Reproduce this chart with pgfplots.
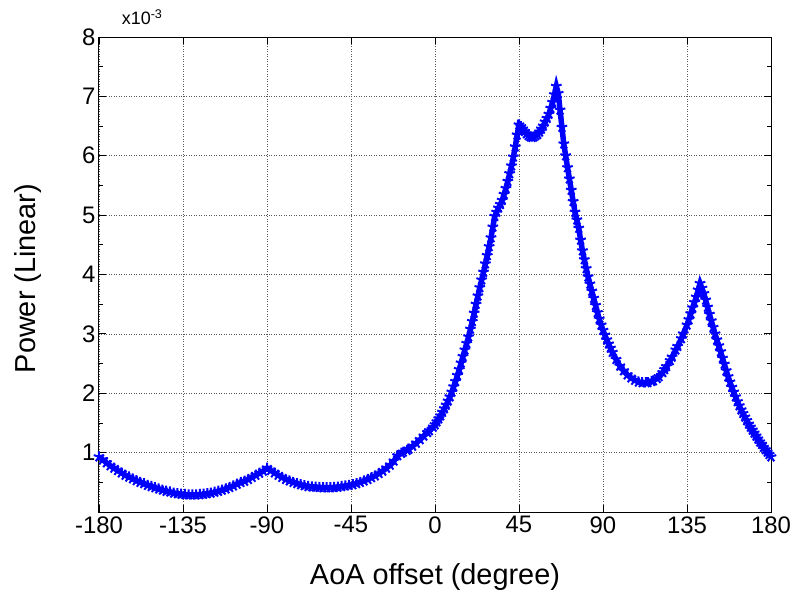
\documentclass[border=0pt]{standalone}
\usepackage{fontspec}
\setmainfont{Liberation Sans}
\usepackage{pgfplots}
\pgfplotsset{compat=1.18}
\begin{document}
\begin{tikzpicture}
\begin{axis}[
  scale only axis,
  width=672bp, height=475bp,
  xmin=-180, xmax=180, ymin=0, ymax=8,
  xtick={-180,-135,-90,-45,0,45,90,135,180},
  xticklabels={-180,-135,-90,-45,0,45,90,135,180},
  ytick={1,2,3,4,5,6,7,8},
  yticklabels={1,2,3,4,5,6,7,8},
  minor ytick={0.5,1.5,2.5,3.5,4.5,5.5,6.5,7.5},
  tick align=inside,
  major tick length=7bp, minor tick length=4bp,
  every tick/.style={black, line width=0.8bp},
  axis line style={black, line width=1bp},
  grid=major,
  major grid style={black!65, line width=0.7bp, dash pattern=on 1bp off 1.5bp},
  tick label style={font=\fontsize{24}{28}\selectfont},
  xticklabel style={yshift=-1bp},
  xlabel={AoA offset (degree)},
  ylabel={Power (Linear)},
  label style={font=\fontsize{29}{33}\selectfont},
  xlabel style={at={([yshift=-72bp]axis description cs:0.5,0)}, anchor=base},
  ylabel style={at={([xshift=-63bp,yshift=-4bp]axis description cs:0,0.5)}, anchor=base},
  clip=false,
]
\addplot[blue, line width=5.5bp, mark=star, mark size=5.5bp, mark options={line width=2bp}] coordinates {
(-180,0.93) (-178,0.88) (-176,0.83) (-174,0.78) (-172,0.74) (-170,0.70) (-168,0.66) (-166,0.62) (-164,0.59) (-162,0.56) (-160,0.53)
(-158,0.50) (-156,0.48) (-154,0.45) (-152,0.43) (-150,0.41) (-148,0.39) (-146,0.37) (-144,0.35) (-142,0.34) (-140,0.32) (-138,0.31) (-136,0.30)
(-134,0.295) (-132,0.29) (-130,0.29) (-128,0.29) (-126,0.295) (-124,0.30) (-122,0.31) (-120,0.32) (-118,0.335) (-116,0.35) (-114,0.37) (-112,0.39)
(-110,0.415) (-108,0.44) (-106,0.47) (-104,0.50) (-102,0.52) (-100,0.55) (-98,0.585) (-96,0.62) (-94,0.655) (-92,0.69) (-90,0.74)
(-88,0.70) (-86,0.66) (-84,0.62) (-82,0.585) (-80,0.55) (-78,0.525) (-76,0.50) (-74,0.48) (-72,0.46) (-70,0.445) (-68,0.43)
(-66,0.425) (-64,0.42) (-62,0.415) (-60,0.41) (-58,0.41) (-56,0.41) (-54,0.415) (-52,0.42) (-50,0.43) (-48,0.44) (-46,0.45) (-44,0.46)
(-42,0.48) (-40,0.50) (-38,0.525) (-36,0.55) (-34,0.58) (-32,0.61) (-30,0.65) (-28,0.69) (-26,0.74) (-24,0.79) (-22,0.86) (-20,0.95)
(-18,0.99) (-17,1.01) (-15,1.04) (-14,1.06) (-12,1.11) (-10,1.16) (-8,1.22) (-6,1.28) (-4,1.34) (-3,1.37) (-1,1.43) (0,1.47)
(1,1.52) (2,1.57) (3,1.62) (4,1.68) (5,1.74) (6,1.80) (7,1.87) (8,1.94) (9,2.02) (10,2.11) (11,2.20) (12,2.30) (13,2.40) (14,2.51) (15,2.62) (16,2.73) (17,2.84) (18,2.95)
(19,3.08) (20,3.21) (21,3.35) (22,3.50) (23,3.64) (24,3.78) (25,3.91) (26,4.04) (27,4.18) (28,4.32) (29,4.47) (30,4.62) (31,4.80) (32,4.98) (33,5.05) (34,5.12)
(35,5.18) (36,5.25) (37,5.35) (38,5.45) (39,5.57) (40,5.70) (41,5.83) (42,5.98) (43,6.15) (44,6.35) (45,6.52)
(46,6.49) (47,6.45) (48,6.41) (49,6.37) (50,6.34) (51,6.32) (52,6.31) (53,6.32) (54,6.34) (55,6.36) (56,6.40) (57,6.45) (58,6.50) (59,6.57) (60,6.63) (61,6.70)
(62,6.80) (63,6.90) (64,7.03) (65,7.17) (66,7.05) (67,6.77) (68,6.48) (69,6.20) (70,6.00) (71,5.80) (72,5.61)
(73,5.42) (74,5.23) (75,5.05) (76,4.92) (77,4.78) (78,4.58) (79,4.40) (80,4.25) (81,4.10) (82,3.96) (83,3.84) (84,3.72) (85,3.60) (86,3.48) (87,3.36)
(88,3.25) (89,3.15) (90,3.06) (91,2.98) (92,2.90) (93,2.83) (94,2.76) (95,2.69) (97,2.57) (99,2.46) (101,2.38) (103,2.31) (105,2.26) (107,2.22)
(109,2.19) (111,2.18) (113,2.18) (114,2.18) (116,2.20) (117,2.21) (119,2.25) (120,2.28) (122,2.35) (123,2.40) (124,2.45) (126,2.55)
(127,2.61) (129,2.73) (130,2.79) (132,2.92) (133,3.00) (135,3.15) (136,3.24) (137,3.34) (138,3.44) (139,3.53) (140,3.62) (141,3.74) (142,3.85)
(143,3.77) (144,3.68) (145,3.57) (146,3.45) (147,3.33) (148,3.22) (149,3.11) (150,3.00) (151,2.90) (152,2.80) (153,2.70) (154,2.59) (155,2.49) (156,2.38)
(157,2.28) (158,2.19) (159,2.10) (160,2.02) (161,1.94) (162,1.86) (163,1.79) (164,1.72) (165,1.66) (166,1.60) (167,1.54) (168,1.48) (169,1.43) (170,1.38) (171,1.33)
(172,1.28) (173,1.23) (174,1.18) (175,1.14) (176,1.09) (177,1.05) (178,1.01) (179,0.97) (180,0.93)
};
\end{axis}
\node[anchor=base west, inner sep=0pt, font=\fontsize{18}{21}\selectfont] at (22.7bp,487bp) {x10\textsuperscript{-3}};
\pgfresetboundingbox
\path (-99bp,-83bp) rectangle (696bp,512bp);
\end{tikzpicture}
\end{document}
